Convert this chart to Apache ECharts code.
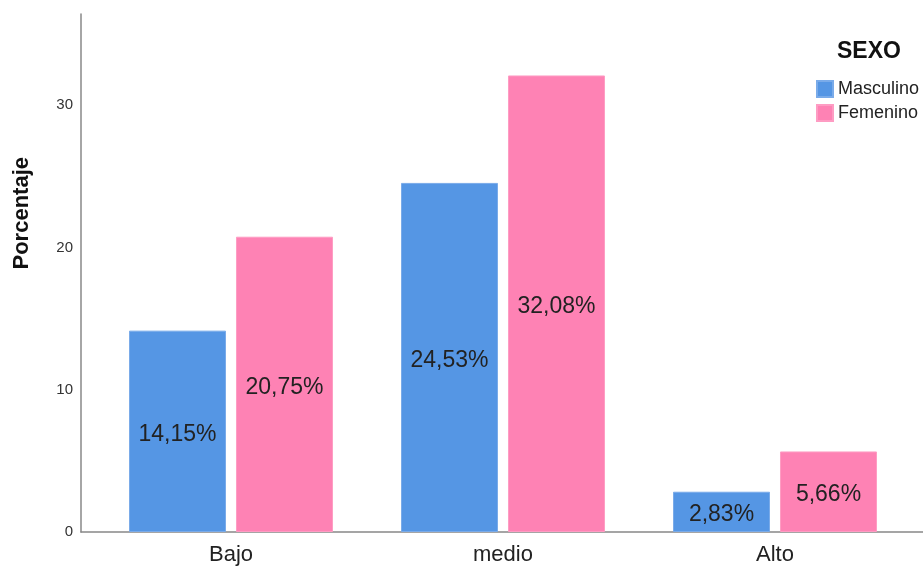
<!DOCTYPE html>
<html>
<head>
<meta charset="utf-8">
<style>
  html, body { margin: 0; padding: 0; background: #fff; }
  #chart { width: 923px; height: 569px; }
</style>
<script src="https://cdn.jsdelivr.net/npm/echarts@6/dist/echarts.min.js"></script>
</head>
<body>
<div id="chart"></div>
<script>
// Percentages by level and sex
const categories = ['Bajo', 'medio', 'Alto'];
const masculino = [14.15, 24.53, 2.83];
const femenino = [20.75, 32.08, 5.66];
const yTicks = [0, 10, 20, 30];

const FONT = '"Liberation Sans", Arial, sans-serif';
const fmt = p => p.value.toFixed(2).replace('.', ',') + '%';

const chart = echarts.init(document.getElementById('chart'), null, { renderer: 'canvas' });

const labelStyle = {
  show: true,
  position: 'inside',
  offset: [0, 3],
  formatter: fmt,
  fontFamily: FONT,
  fontSize: 23,
  color: '#222'
};

chart.setOption({
  animation: false,
  backgroundColor: '#ffffff',
  title: {
    text: 'SEXO',
    left: 837,
    top: 40,
    padding: 0,
    textStyle: { fontFamily: FONT, fontSize: 23, fontWeight: 'bold', color: '#111' }
  },
  legend: {
    orient: 'vertical',
    left: 816,
    top: 80,
    padding: 0,
    itemWidth: 16,
    itemHeight: 16,
    itemGap: 6,
    icon: 'rect',
    data: ['Masculino', 'Femenino'],
    textStyle: { fontFamily: FONT, fontSize: 18, color: '#222' }
  },
  grid: [
    // outer frame carrying the visible axes
    { left: 81, right: 0, top: 14, bottom: 37 },
    // inner area holding the bars
    { left: 95, right: 12, top: 14, bottom: 37 }
  ],
  xAxis: [
    {
      gridIndex: 0,
      type: 'category',
      data: [''],
      axisLine: { show: true, lineStyle: { color: '#888', width: 1.5 } },
      axisTick: { show: false },
      axisLabel: { show: false }
    },
    {
      gridIndex: 1,
      type: 'category',
      data: categories,
      axisLine: { show: false },
      axisTick: { show: false },
      axisLabel: { fontFamily: FONT, fontSize: 22, color: '#222', margin: 12 }
    }
  ],
  yAxis: [
    {
      gridIndex: 0,
      type: 'value',
      min: 0,
      max: 36.4,
      interval: 10,
      axisLine: { show: true, lineStyle: { color: '#888', width: 1.5 } },
      axisTick: { show: false },
      splitLine: { show: false },
      axisLabel: {
        showMaxLabel: false,
        fontFamily: FONT,
        fontSize: 15,
        color: '#333',
        margin: 8,
        formatter: v => (yTicks.indexOf(v) >= 0 ? String(v) : '')
      }
    },
    {
      gridIndex: 1,
      type: 'value',
      min: 0,
      max: 36.4,
      interval: 10,
      show: false,
      splitLine: { show: false }
    }
  ],
  graphic: [
    {
      type: 'text',
      left: 11,
      top: 157,
      rotation: Math.PI / 2,
      style: {
        text: 'Porcentaje',
        fontFamily: FONT,
        fontSize: 22,
        fontWeight: 'bold',
        fill: '#111'
      }
    }
  ],
  series: [
    {
      name: 'Masculino',
      type: 'bar',
      xAxisIndex: 1,
      yAxisIndex: 1,
      data: masculino,
      barWidth: 97,
      barGap: '10.3%',
      itemStyle: { color: '#5596e4', borderColor: '#7aabe9', borderWidth: 1 },
      label: labelStyle
    },
    {
      name: 'Femenino',
      type: 'bar',
      xAxisIndex: 1,
      yAxisIndex: 1,
      data: femenino,
      barWidth: 97,
      barGap: '10.3%',
      itemStyle: { color: '#fe82b4', borderColor: '#fe9cc3', borderWidth: 1 },
      label: labelStyle
    }
  ]
});
</script>
</body>
</html>
